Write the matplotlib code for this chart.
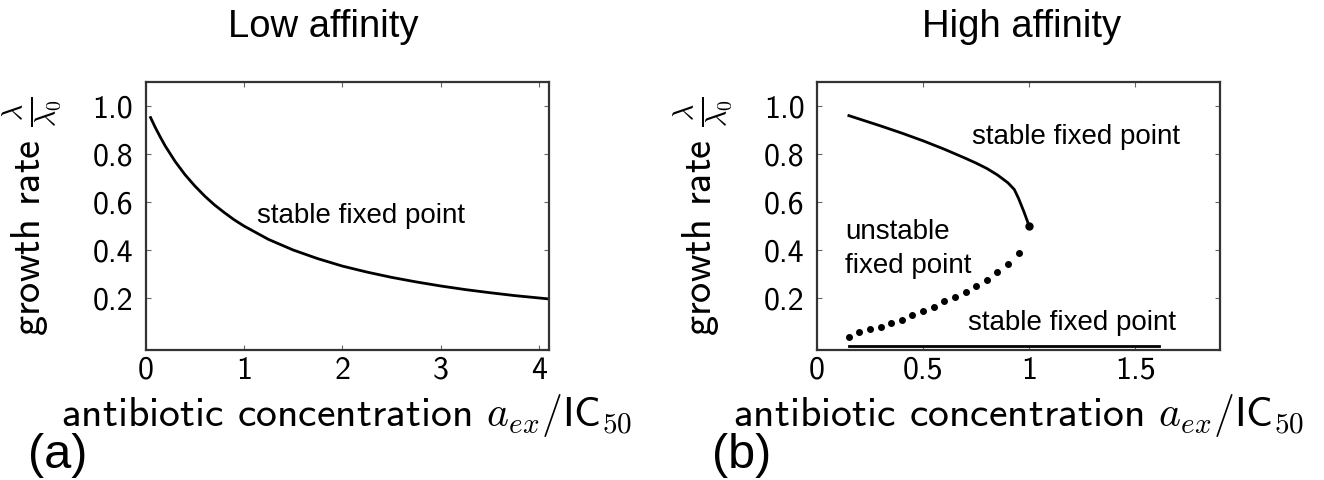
import matplotlib
matplotlib.use("Agg")
import matplotlib.pyplot as plt

plt.rcParams['font.family'] = 'cmss10'
plt.rcParams['mathtext.fontset'] = 'cm'
plt.rcParams['axes.unicode_minus'] = False

# low affinity: single stable branch
low_x = [0.05, 0.1, 0.15, 0.2, 0.3, 0.4, 0.5, 0.6, 0.7, 0.8, 0.9, 1.0, 1.25, 1.5, 1.75,
         2.0, 2.25, 2.5, 2.75, 3.0, 3.25, 3.5, 3.75, 4.1]
low_y = [0.952, 0.909, 0.87, 0.833, 0.769, 0.714, 0.667, 0.625, 0.588, 0.556, 0.526, 0.5,
         0.444, 0.4, 0.364, 0.333, 0.308, 0.286, 0.267, 0.25, 0.235, 0.222, 0.21, 0.196]

# high affinity: upper stable, unstable (dotted) and zero-growth branches
upper_x = [0.15, 0.3, 0.4, 0.5, 0.6, 0.65, 0.7, 0.75, 0.8, 0.85, 0.9, 0.93, 0.95, 0.975, 1.0]
upper_y = [0.96, 0.917, 0.887, 0.855, 0.82, 0.801, 0.782, 0.762, 0.74, 0.713, 0.68, 0.652,
           0.615, 0.56, 0.50]
unstable_x = [0.15, 0.2, 0.25, 0.3, 0.35, 0.4, 0.45, 0.5, 0.55, 0.6, 0.65, 0.7, 0.75,
              0.8, 0.85, 0.9, 0.95]
unstable_y = [0.036, 0.057, 0.071, 0.080, 0.094, 0.108, 0.129, 0.144, 0.164, 0.186,
              0.205, 0.226, 0.248, 0.275, 0.307, 0.341, 0.386]
zero_x = [0.15, 1.61]
zero_y = [0.0, 0.0]
bif_x, bif_y = 1.0, 0.5

yticks = [0.2, 0.4, 0.6, 0.8, 1.0]
low_xticks = [0, 1, 2, 3, 4]
high_xticks = [0, 0.5, 1, 1.5]
high_xticklabels = ['0', '0.5', '1', '1.5']

ylab = r'growth rate $\frac{\lambda}{\lambda_0}$'
xlab = r'antibiotic concentration $a_{ex}/\mathsf{IC}_{50}$'
sans = 'Liberation Sans'

fig = plt.figure(figsize=(13.24, 4.8), dpi=100)
ax1 = fig.add_axes([0.110, 0.2708, 0.3044, 0.5583])
ax2 = fig.add_axes([0.6171, 0.2708, 0.3044, 0.5583])


def style(ax):
    ax.set_ylim(-0.017, 1.1)
    ax.set_yticks(yticks)
    ax.set_yticklabels(['%.1f' % t for t in yticks])
    ax.tick_params(direction='in', top=True, right=True, length=3.5, width=0.8,
                   color='#666666', labelsize=23)
    ax.tick_params(axis='y', pad=9)
    ax.tick_params(axis='x', pad=4)
    for s in ax.spines.values():
        s.set_linewidth(1.6)
        s.set_color('#333333')
    ax.set_ylabel(ylab, fontsize=29, labelpad=20)
    ax.set_xlabel(xlab, fontsize=30, labelpad=5)


ax1.plot(low_x, low_y, color='black', lw=2)
ax1.set_xlim(0, 4.1)
ax1.set_xticks(low_xticks)
style(ax1)
ax1.text(1.13, 0.512, 'stable fixed point', family=sans, fontsize=20)

ax2.plot(upper_x, upper_y, color='black', lw=2)
ax2.plot([bif_x], [bif_y], 'o', color='black', ms=5)
ax2.plot(unstable_x, unstable_y, 'o', color='black', ms=4, lw=0)
ax2.plot(zero_x, zero_y, color='black', lw=2)
ax2.set_xlim(0, 1.9)
ax2.set_xticks(high_xticks)
ax2.set_xticklabels(high_xticklabels)
style(ax2)
ax2.text(0.731, 0.84, 'stable fixed point', family=sans, fontsize=20)
ax2.text(0.134, 0.445, 'unstable', family=sans, fontsize=20)
ax2.text(0.134, 0.304, 'fixed point', family=sans, fontsize=20)
ax2.text(0.711, 0.067, 'stable fixed point', family=sans, fontsize=20)

fig.text(323 / 1324, 1 - 37 / 480, 'Low affinity', family=sans, fontsize=27.5,
         ha='center', va='baseline')
fig.text(1022 / 1324, 1 - 37 / 480, 'High affinity', family=sans, fontsize=27.5,
         ha='center', va='baseline')
fig.text(28 / 1324, 1 - 468 / 480, '(a)', family=sans, fontsize=35, va='baseline')
fig.text(712 / 1324, 1 - 468 / 480, '(b)', family=sans, fontsize=35, va='baseline')

fig.savefig('out.png', dpi=100)
